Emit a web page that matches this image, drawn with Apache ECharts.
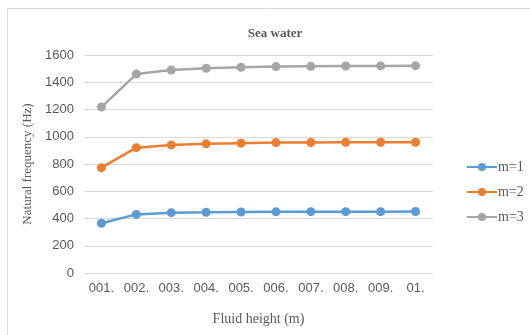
<!DOCTYPE html>
<html><head><meta charset="utf-8">
<script src="https://cdn.jsdelivr.net/npm/echarts@6/dist/echarts.min.js"></script>
<style>html,body{margin:0;padding:0;background:#fff}#c{width:530px;height:335px}</style>
</head><body><div id="c"></div>
<script>
var categories = ['001.', '002.', '003.', '004.', '005.', '006.', '007.', '008.', '009.', '01.'];
var m1 = [365, 430, 443, 445, 448, 449, 450, 450, 450, 451];
var m2 = [773, 920, 940, 948, 953, 957, 958, 959, 960, 960];
var m3 = [1218, 1460, 1490, 1503, 1510, 1515, 1517, 1519, 1520, 1522];
var yTicks = [0, 200, 400, 600, 800, 1000, 1200, 1400, 1600];

var chart = echarts.init(document.getElementById('c'));
function s(name, data, color) {
  return {name: name, type: 'line', data: data, symbol: 'circle', symbolSize: 9,
    lineStyle: {width: 2.5, color: color}, itemStyle: {color: color}};
}
chart.setOption({
  animation: false,
  graphic: [{type: 'rect', shape: {x: 7.5, y: 8.5, width: 540, height: 340},
    style: {fill: 'none', stroke: '#d9d9d9', lineWidth: 1}}],
  title: {text: 'Sea water', left: 270, top: 22, textAlign: 'center',
    textStyle: {fontFamily: 'Liberation Serif', fontWeight: 'bold', fontSize: 13, color: '#595959'}},
  legend: {orient: 'vertical', left: 461, top: 155, itemGap: 11, itemWidth: 30, itemHeight: 10,
    textStyle: {fontFamily: 'Liberation Serif', fontSize: 14, color: '#595959', padding: [0,0,0,-4]},
    data: ['m=1', 'm=2', 'm=3']},
  grid: {left: 84, top: 55, width: 349, height: 218},
  xAxis: {type: 'category', data: categories, boundaryGap: true,
    axisLine: {show: true, lineStyle: {color: '#d9d9d9'}}, axisTick: {show: false},
    axisLabel: {fontFamily: 'Liberation Sans', fontSize: 13, color: '#595959', margin: 9},
    name: 'Fluid height (m)', nameLocation: 'middle', nameGap: 39,
    nameTextStyle: {fontFamily: 'Liberation Serif', fontSize: 14, color: '#595959'}},
  yAxis: {type: 'value', min: 0, max: 1600, interval: 200,
    axisLine: {show: false}, axisTick: {show: false},
    splitLine: {lineStyle: {color: '#d9d9d9'}},
    axisLabel: {fontFamily: 'Liberation Sans', fontSize: 13, color: '#595959', margin: 10,
      formatter: function (v) { return String(v); }},
    name: 'Natural frequency (Hz)', nameLocation: 'middle', nameGap: 50, nameRotate: 90,
    nameTextStyle: {fontFamily: 'Liberation Serif', fontSize: 13, color: '#595959'}},
  series: [s('m=1', m1, '#5B9BD5'), s('m=2', m2, '#ED7D31'), s('m=3', m3, '#A5A5A5')]
});
</script></body></html>
